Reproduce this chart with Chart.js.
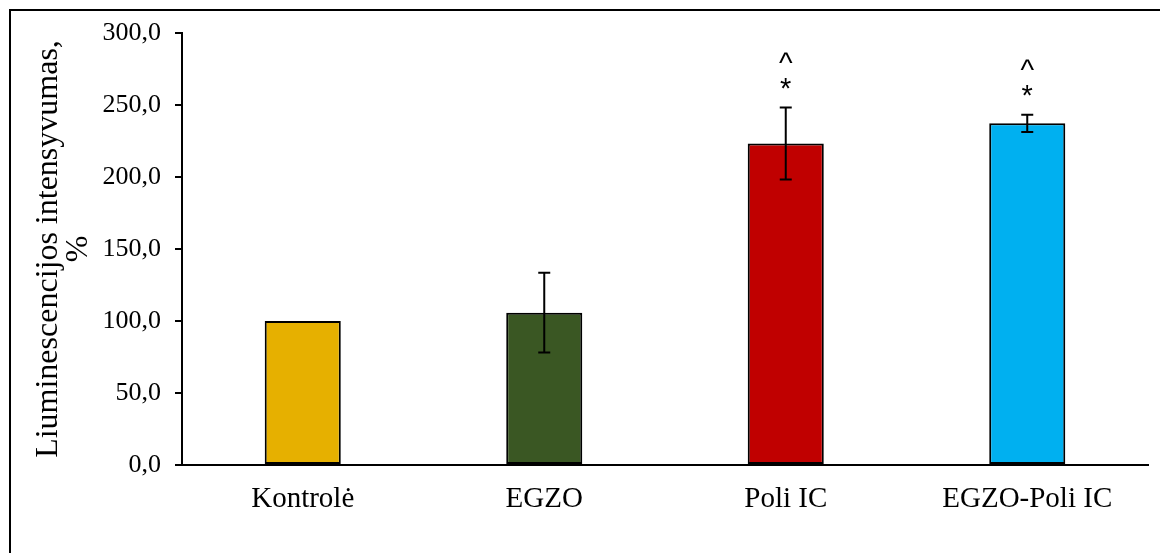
<!DOCTYPE html>
<html>
<head>
<meta charset="utf-8">
<script src="https://cdn.jsdelivr.net/npm/chart.js@4.4.1/dist/chart.umd.min.js"></script>
<style>
  html, body { margin: 0; padding: 0; background: #fff; }
  #wrap { position: relative; width: 1160px; height: 553px; overflow: hidden; }
  #frame { position: absolute; left: 9px; top: 9px; width: 1300px; height: 700px;
           border-left: 2px solid #000; border-top: 2px solid #000; }
  canvas { position: absolute; left: 0; top: 0; }
</style>
</head>
<body>
<div id="wrap">
  <div id="frame"></div>
  <canvas id="chart" width="1160" height="553"></canvas>
</div>
<script>
// values
const categories = ['Kontrolė', 'EGZO', 'Poli IC', 'EGZO-Poli IC'];
const means = [100.0, 105.8, 223.2, 237.3];
const errors = [0, 27.7, 25.0, 6.0];
const marks = ['', '', '*\n^', '*\n^'];
const barColors = ['#E6B000', '#3A5723', '#C00000', '#00B0F0'];

// error bars + significance marks drawn on top of the bars
const errorBarPlugin = {
    id: 'errorBars',
    afterDatasetsDraw(chart) {
        const ctx = chart.ctx;
        const y = chart.scales.y;
        const meta = chart.getDatasetMeta(0);
        ctx.save();
        ctx.strokeStyle = '#000';
        ctx.lineWidth = 2;
        meta.data.forEach((bar, i) => {
            const err = errors[i];
            const x = bar.x;
            const top = y.getPixelForValue(means[i] + err);
            const bottom = y.getPixelForValue(means[i] - err);
            if (err > 0) {
                ctx.beginPath();
                ctx.moveTo(x, top); ctx.lineTo(x, bottom);
                ctx.moveTo(x - 6, top); ctx.lineTo(x + 6, top);
                ctx.moveTo(x - 6, bottom); ctx.lineTo(x + 6, bottom);
                ctx.stroke();
            }
            if (marks[i]) {
                ctx.fillStyle = '#000';
                ctx.font = '29px "Liberation Sans", Arial, sans-serif';
                ctx.textAlign = 'center';
                ctx.textBaseline = 'middle';
                ctx.fillText('*', x, top - 18);
                ctx.fillText('^', x, top - 43);
            }
        });
        ctx.restore();
    }
};

const serif = '"Liberation Serif", "Times New Roman", serif';

new Chart(document.getElementById('chart').getContext('2d'), {
    type: 'bar',
    data: {
        labels: categories,
        datasets: [{
            data: means,
            backgroundColor: barColors,
            borderColor: '#000',
            borderWidth: 2,
            borderSkipped: false,
            categoryPercentage: 1,
            barPercentage: 0.315
        }]
    },
    options: {
        responsive: false,
        animation: false,
        layout: { padding: { left: 20, top: 33, right: 12, bottom: 0 } },
        plugins: {
            legend: { display: false },
            tooltip: { enabled: false }
        },
        scales: {
            x: {
                grid: { display: false, drawTicks: false },
                border: { display: true, color: '#000', width: 2 },
                ticks: {
                    color: '#000',
                    padding: 17,
                    font: { family: serif, size: 29 }
                },
                afterFit: scale => { scale.height = 88; }
            },
            y: {
                min: 0,
                max: 300,
                ticks: {
                    stepSize: 50,
                    color: '#000',
                    padding: 14,
                    font: { family: serif, size: 26 },
                    callback: v => v.toFixed(1).replace('.', ',')
                },
                grid: {
                    drawOnChartArea: false,
                    color: '#000',
                    lineWidth: 2,
                    tickLength: 7
                },
                border: { display: true, color: '#000', width: 2 },
                title: {
                    display: true,
                    text: ['Liuminescencijos intensyvumas,', '%'],
                    color: '#000',
                    font: { family: serif, size: 32, lineHeight: 0.95 },
                    padding: { top: 13, bottom: 0 }
                },
                afterFit: scale => { scale.width = 162; }
            }
        }
    },
    plugins: [errorBarPlugin]
});
</script>
</body>
</html>
